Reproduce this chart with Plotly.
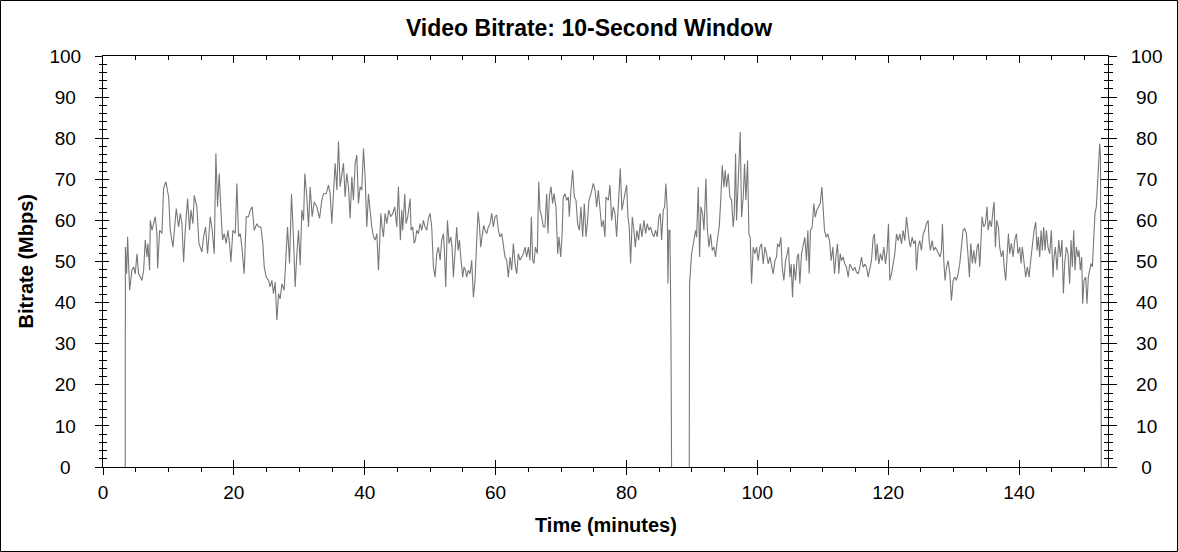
import plotly.graph_objects as go

TITLE = "Video Bitrate: 10-Second Window"
X_TITLE = "Time (minutes)"
Y_TITLE = "Bitrate (Mbps)"
x_ticks = [0, 20, 40, 60, 80, 100, 120, 140]
y_ticks = [0, 10, 20, 30, 40, 50, 60, 70, 80, 90, 100]

part1_minutes = [
    3.40, 3.42, 3.61, 3.76, 4.07, 4.42, 4.68, 4.93, 5.19, 5.44, 5.70, 5.95, 6.21, 6.46, 6.72, 6.87,
    7.12, 7.23, 7.48, 7.73, 7.99, 8.24, 8.35, 8.65, 9.01, 9.26, 9.62, 10.03, 10.28, 10.69, 11.20,
    11.55, 11.81, 12.06, 12.32, 12.57, 12.93, 13.23, 13.44, 13.74, 13.95, 14.35, 14.66, 15.12,
    15.37, 15.68, 15.98, 16.39, 16.69, 17.00, 17.25, 17.51, 17.76, 18.02, 18.27, 18.53, 18.83,
    19.09, 19.34, 19.55, 19.85, 20.21, 20.46, 20.72, 20.97, 21.23, 21.58, 21.89, 22.24, 22.50,
    22.80, 23.11, 23.52, 23.82, 24.13, 24.43, 24.64, 24.94, 25.30, 25.55, 25.81, 26.06, 26.32,
    26.57, 26.83, 27.08, 27.34, 27.69, 28.00, 28.20, 28.51, 28.81, 29.12, 29.37, 29.63, 29.88,
    30.14, 30.39, 30.65, 30.85, 31.15, 31.41, 31.66, 31.97, 32.27, 32.68, 33.09, 33.44, 33.70,
    34.11, 34.46, 34.72, 34.97, 35.23, 35.48, 35.74, 35.99, 36.25, 36.50, 36.75, 37.01, 37.26,
    37.52, 37.77, 38.03, 38.28, 38.54, 38.79, 39.04, 39.30, 39.55, 39.81, 40.06, 40.32, 40.57,
    40.83, 41.08, 41.34, 41.59, 41.85, 42.10, 42.25, 42.46, 42.66, 42.86, 43.12, 43.37, 43.68,
    43.98, 44.29, 44.59, 44.90, 45.15, 45.45, 45.66, 45.81, 46.12, 46.32, 46.58, 46.93, 47.09,
    47.34, 47.55, 47.75, 47.95, 48.21, 48.46, 48.72, 48.97, 49.23, 49.48, 49.73, 49.99, 50.24,
    50.50, 50.75, 51.01, 51.26, 51.52, 51.77, 52.03, 52.18, 52.38, 52.64, 52.89, 53.15, 53.35,
    53.55, 53.81, 54.06, 54.27, 54.47, 54.72, 54.98, 55.18, 55.39, 55.59, 55.84, 56.10, 56.35,
    56.61, 56.86, 57.12, 57.32, 57.52, 57.73, 57.93, 58.19, 58.39, 58.64, 58.90, 59.15, 59.41,
    59.66, 59.92, 60.17, 60.43, 60.68, 60.94, 61.19, 61.44, 61.70, 61.95, 62.21, 62.46, 62.72,
    62.97, 63.23, 63.48, 63.74, 63.99, 64.24, 64.50, 64.75, 65.01, 65.26, 65.47, 65.67, 65.87,
    66.08, 66.38, 66.59, 66.79, 67.04, 67.30, 67.55, 67.81, 68.01, 68.21, 68.47, 68.72, 68.93,
    69.23, 69.49, 69.69, 69.95, 70.15, 70.35, 70.61, 70.86, 71.12, 71.27, 71.52, 71.78, 72.03,
    72.29, 72.54, 72.80, 73.05, 73.31, 73.56, 73.82, 74.02, 74.27, 74.58, 74.94, 75.19, 75.45,
    75.70, 75.95, 76.21, 76.46, 76.72, 76.87, 77.23, 77.48, 77.74, 77.99, 78.25, 78.50, 78.75,
    79.06, 79.31, 79.52, 79.77, 80.03, 80.23, 80.43, 80.64, 80.89, 81.15, 81.35, 81.60, 81.86,
    82.11, 82.37, 82.67, 82.93, 83.18, 83.44, 83.69, 83.95, 84.20, 84.46, 84.71, 84.96, 85.17,
    85.37, 85.63, 85.83, 86.03, 86.24, 86.34, 86.49, 86.65, 86.80, 86.90,
]
part1_mbps = [
    0.0, 53.5, 47.0, 56.0, 43.0, 47.9, 48.7, 47.0, 51.9, 47.0, 46.2, 45.4, 47.9, 55.2, 51.1, 54.4,
    47.9, 60.0, 57.6, 59.2, 60.9, 56.8, 48.3, 57.6, 56.8, 67.8, 69.4, 65.7, 57.6, 53.5, 62.9,
    58.4, 61.7, 59.2, 49.9, 57.6, 65.3, 57.6, 62.5, 59.2, 66.1, 63.3, 54.4, 52.3,
    56.0, 58.4, 51.9, 60.9, 57.6, 51.9, 76.3, 63.3, 71.4, 62.5, 55.2, 56.8, 54.4,
    57.6, 54.4, 49.9, 57.6, 56.8, 69.0, 56.0, 56.8, 53.5, 47.0, 60.9, 60.9, 62.5,
    63.3, 57.6, 59.2, 58.4, 58.4, 54.4, 48.7, 46.2, 45.4, 43.8, 45.4, 42.2, 45.0,
    35.7, 42.2, 40.9, 44.6, 43.0, 51.1, 58.4, 49.5, 66.5, 55.2, 43.8, 51.9, 57.6,
    49.1, 62.5, 60.0, 71.4, 65.7, 58.4, 68.2, 60.9, 64.5, 63.3, 60.5, 64.9, 66.5,
    66.5, 68.6, 66.5, 59.2, 66.5, 73.9, 67.4, 79.2, 68.2, 70.6, 73.9, 65.7, 71.4,
    68.2, 60.5, 70.6, 64.9, 73.9, 75.9, 64.1, 68.2, 67.4, 77.5, 70.6, 58.4, 66.5,
    61.7, 58.4, 56.0, 55.2, 56.8, 47.9, 53.5, 61.7, 58.4, 56.0, 61.7, 59.2, 62.5,
    60.9, 61.7, 63.3, 58.4, 68.2, 55.2, 62.5, 57.6, 66.5, 59.2, 60.9, 65.3, 57.6,
    58.4, 54.4, 55.2, 57.6, 56.8, 59.2, 57.6, 60.0, 58.4, 57.6, 60.5, 61.7, 58.4,
    48.7, 46.2, 51.9, 53.5, 50.3, 55.2, 56.8, 52.7, 43.8, 60.0, 54.4, 56.0, 53.5,
    46.2, 52.7, 58.4, 52.7, 55.2, 50.3, 46.2, 48.7, 47.9, 46.2, 47.9, 47.0, 50.3,
    41.3, 45.4, 55.2, 62.1, 59.2, 53.5, 56.0, 58.8, 57.6, 56.8, 58.4, 59.2, 61.7,
    58.4, 60.9, 61.3, 57.6, 56.0, 56.8, 54.4, 51.1, 50.3, 46.2, 51.1, 47.9, 54.4,
    49.5, 47.0, 51.9, 50.3, 51.1, 51.9, 53.5, 51.1, 53.5, 50.3, 60.9, 50.3, 49.5,
    53.5, 51.9, 69.4, 62.5, 60.9, 58.4, 58.4, 66.5, 56.8, 65.7, 68.2, 64.1, 66.5,
    63.3, 51.9, 56.0, 51.1, 56.0, 65.7, 66.5, 64.9, 65.7, 60.9, 67.4, 72.2, 65.7,
    64.9, 59.2, 57.6, 63.3, 56.0, 64.1, 56.0, 59.2, 64.9, 66.5, 69.0, 67.4, 63.3,
    67.4, 62.5, 58.4, 60.0, 56.0, 65.7, 64.9, 68.6, 60.0, 63.3, 61.7, 56.0, 63.3,
    72.6, 62.5, 64.9, 66.5, 68.6, 60.9, 58.4, 49.5, 60.9, 57.6, 53.5, 57.6, 55.2,
    59.2, 56.0, 60.0, 56.8, 59.2, 57.6, 58.4, 56.8, 56.0, 57.6, 56.0, 60.9, 61.7,
    55.2, 62.5, 63.3, 69.0, 62.5, 44.6, 57.6, 57.6, 33.2, 0.0,
]

part2_minutes = [
    89.60, 89.65, 89.96, 90.11, 90.32, 90.57, 90.72, 90.98, 91.18, 91.38, 91.64, 91.84, 91.99,
    92.15, 92.35, 92.61, 92.86, 93.12, 93.37, 93.62, 93.88, 94.18, 94.44, 94.64, 94.90, 95.10,
    95.30, 95.56, 95.81, 96.07, 96.32, 96.48, 96.68, 96.83, 97.09, 97.39, 97.60, 97.85, 98.05,
    98.26, 98.51, 98.72, 98.92, 99.12, 99.38, 99.63, 99.89, 100.14, 100.40, 100.65, 100.91,
    101.16, 101.41, 101.67, 101.92, 102.18, 102.43, 102.69, 102.94, 103.09, 103.35, 103.60,
    103.81, 104.06, 104.32, 104.57, 104.77, 104.98, 105.18, 105.38, 105.59, 105.84, 106.10,
    106.30, 106.50, 106.76, 107.01, 107.27, 107.52, 107.73, 107.93, 108.13, 108.39, 108.64,
    108.85, 109.10, 109.36, 109.61, 109.87, 110.07, 110.27, 110.53, 110.78, 111.04, 111.29,
    111.55, 111.80, 112.06, 112.26, 112.46, 112.67, 112.87, 113.12, 113.38, 113.63, 113.89,
    114.14, 114.40, 114.65, 114.91, 115.16, 115.41, 115.67, 115.92, 116.18, 116.43, 116.69,
    116.94, 117.20, 117.45, 117.71, 117.91, 118.11, 118.32, 118.57, 118.83, 119.08, 119.34,
    119.59, 119.84, 120.05, 120.25, 120.51, 120.76, 121.02, 121.27, 121.52, 121.78, 122.03,
    122.29, 122.54, 122.80, 123.00, 123.21, 123.41, 123.66, 123.92, 124.17, 124.33, 124.58,
    124.83, 125.09, 125.34, 125.60, 125.85, 126.11, 126.26, 126.46, 126.72, 126.97, 127.23,
    127.48, 127.74, 127.94, 128.14, 128.30, 128.50, 128.70, 128.91, 129.16, 129.42, 129.67,
    129.93, 130.18, 130.43, 130.69, 130.94, 131.20, 131.45, 131.71, 131.96, 132.22, 132.42,
    132.62, 132.88, 133.08, 133.34, 133.59, 133.79, 134.00, 134.15, 134.35, 134.61, 134.86,
    135.12, 135.27, 135.53, 135.78, 136.03, 136.19, 136.39, 136.59, 136.85, 137.05, 137.31,
    137.56, 137.77, 137.97, 138.17, 138.38, 138.58, 138.83, 139.09, 139.34, 139.60, 139.85,
    140.11, 140.31, 140.51, 140.77, 141.02, 141.28, 141.53, 141.79, 142.04, 142.30, 142.55,
    142.76, 142.96, 143.16, 143.37, 143.57, 143.77, 143.98, 144.18, 144.43, 144.69, 144.94,
    145.20, 145.35, 145.56, 145.81, 146.07, 146.32, 146.57, 146.78, 146.98, 147.24, 147.49,
    147.74, 147.95, 148.15, 148.36, 148.56, 148.76, 149.02, 149.17, 149.37, 149.58, 149.73,
    149.93, 150.19, 150.39, 150.59, 150.80, 151.00, 151.21, 151.41, 151.61, 151.82, 151.97,
    152.13, 152.33, 152.45, 152.58,
]
part2_mbps = [
    0.0, 44.6, 51.9, 53.5, 55.1, 57.6, 55.9, 68.1, 51.1, 63.3, 61.6, 57.6, 63.3,
    70.2, 58.4, 53.5, 56.7, 52.7, 53.5, 51.1, 55.1, 58.4, 65.7, 73.4, 68.1, 72.2,
    68.1, 71.4, 65.7, 64.9, 58.4, 61.6, 76.3, 60.0, 69.8, 81.5, 60.8, 65.7, 73.8,
    64.9, 74.6, 56.7, 55.9, 44.6, 53.5, 51.9, 53.5, 50.2, 53.5, 54.3, 49.4,
    53.5, 51.9, 49.4, 51.1, 48.6, 47.0, 50.2, 51.1, 54.3, 53.5, 55.9,
    48.6, 45.4, 50.2, 51.9, 53.5, 46.2, 49.4, 41.3, 49.4, 45.4, 51.1,
    51.9, 44.6, 51.9, 54.3, 55.9, 50.2, 57.6, 47.0, 57.6, 58.4, 64.1,
    60.8, 62.4, 63.3, 64.1, 68.1, 61.6, 57.6, 55.9, 56.7, 55.1, 50.2,
    53.5, 47.0, 51.9, 54.3, 47.0, 51.9, 50.2, 51.1, 49.4, 48.6, 46.2,
    49.4, 48.6, 47.8, 48.6, 47.4, 47.0, 48.6, 51.1, 48.6, 49.4, 48.6,
    46.2, 48.6, 50.2, 55.9, 56.7, 50.2, 54.3, 49.4, 51.9, 50.2, 53.5,
    49.4, 52.7, 59.2, 45.4, 47.0, 49.4, 51.9, 56.7, 55.1, 56.7, 54.3,
    57.6, 55.1, 60.8, 57.6, 55.1, 53.5, 55.9, 54.3, 55.1, 47.8, 53.5,
    55.1, 52.7, 56.7, 57.6, 59.2, 60.0, 55.1, 52.7, 55.1, 52.7, 53.5,
    52.7, 51.9, 51.1, 52.7, 59.2, 50.2, 45.4, 48.6, 50.2, 47.0, 40.5,
    45.4, 46.2, 45.4, 47.0, 49.4, 54.3, 57.6, 58.0, 56.8, 51.1, 46.2,
    54.4, 49.5, 52.7, 49.5, 53.5, 54.4, 48.7, 52.7, 60.9, 58.4, 59.2,
    63.3, 57.6, 60.0, 58.4, 62.5, 64.5, 53.5, 60.0, 58.4, 53.5, 51.1,
    52.7, 47.9, 45.4, 51.1, 56.8, 51.9, 54.4, 51.1, 55.2, 56.8, 51.9,
    53.5, 49.5, 53.5, 50.3, 46.2, 48.7, 46.2, 50.3, 54.4, 57.6, 59.6,
    52.7, 56.0, 51.1, 57.6, 52.7, 58.4, 52.7, 57.6, 53.5, 51.9, 57.6,
    46.2, 51.1, 53.5, 47.9, 55.2, 51.1, 55.2, 42.2, 49.5, 53.5, 51.9,
    44.6, 55.2, 48.7, 57.6, 47.9, 53.5, 51.1, 52.7, 47.9, 51.1, 39.7,
    45.4, 46.2, 39.7, 46.2, 47.9, 49.5, 48.7, 57.6, 61.7, 63.3, 69.0,
    73.9, 78.7, 75.5, 0.0,
]

W, H = 1178, 552
L, R, T, B = 103, 70, 56, 85
PW = W - L - R
PH = H - T - B
X_RANGE = [0, 153.6]
Y_RANGE = [0, 100]
FONT = "Liberation Sans, Arial, sans-serif"
LINE_COLOR = "#787878"

# centre the y tick labels within a three-digit-wide column (as in the reference)
FIG_SP = "\u2007"    # width of one digit
PUNCT_SP = "\u2008"  # width of half a digit


def pad_left_axis(v):
    s = str(v)
    return s + {1: FIG_SP, 2: PUNCT_SP, 3: ""}[len(s)]


def pad_right_axis(v):
    s = str(v)
    return {1: FIG_SP, 2: PUNCT_SP, 3: ""}[len(s)] + s


fig = go.Figure()
fig.add_trace(go.Scatter(x=part1_minutes, y=part1_mbps, mode="lines",
                         line=dict(color=LINE_COLOR, width=1.1), hoverinfo="skip", showlegend=False))
fig.add_trace(go.Scatter(x=part2_minutes, y=part2_mbps, mode="lines",
                         line=dict(color=LINE_COLOR, width=1.1), hoverinfo="skip", showlegend=False))
for xa, ya in [("x2", "y"), ("x3", "y"), ("x", "y2"), ("x", "y3"), ("x", "y4")]:
    fig.add_trace(go.Scatter(x=[None], y=[None], xaxis=xa, yaxis=ya, mode="lines",
                             hoverinfo="skip", showlegend=False))

tickfont = dict(family=FONT, size=19, color="black")
base = dict(showgrid=False, zeroline=False, tickcolor="black", tickwidth=1,
            linecolor="black", linewidth=1, fixedrange=True)

fig.update_layout(
    width=W, height=H, autosize=False,
    margin=dict(l=L, r=R, t=T, b=B, pad=0),
    paper_bgcolor="white", plot_bgcolor="white",
    font=dict(family=FONT, color="black"),
    title=dict(text="<b>" + TITLE + "</b>", x=0.5, xref="container", xanchor="center",
               y=1 - 27.5 / H, yref="container", yanchor="middle",
               font=dict(family=FONT, size=23, color="black")),
    xaxis=dict(base, range=X_RANGE, anchor="y", side="bottom", showline=True,
               tickmode="array", tickvals=x_ticks, ticks="outside", ticklen=7,
               tickfont=tickfont, ticklabelstandoff=1,
               minor=dict(dtick=5, tick0=0, ticks="outside", ticklen=4, tickcolor="black", showgrid=False)),
    xaxis2=dict(base, range=X_RANGE, overlaying="x", anchor="y", side="bottom", showline=False,
                tickmode="array", tickvals=x_ticks, ticks="inside", ticklen=7, showticklabels=False),
    xaxis3=dict(base, range=X_RANGE, overlaying="x", anchor="y", side="top", showline=True,
                tickmode="array", tickvals=x_ticks, ticks="inside", ticklen=7, showticklabels=False,
                minor=dict(dtick=5, tick0=0, ticks="inside", ticklen=4, tickcolor="black", showgrid=False)),
    yaxis=dict(base, range=Y_RANGE, anchor="x", side="left", showline=True,
               tickmode="array", tickvals=y_ticks, ticktext=[pad_left_axis(v) for v in y_ticks],
               ticks="outside", ticklen=7, tickfont=tickfont, ticklabelstandoff=10,
               minor=dict(dtick=2, tick0=0, ticks="outside", ticklen=3, tickcolor="black", showgrid=False)),
    yaxis2=dict(base, range=Y_RANGE, overlaying="y", anchor="x", side="left", showline=False,
                tickmode="array", tickvals=y_ticks, ticks="inside", ticklen=6, showticklabels=False,
                minor=dict(dtick=2, tick0=0, ticks="inside", ticklen=4, tickcolor="black", showgrid=False)),
    yaxis3=dict(base, range=Y_RANGE, overlaying="y", anchor="x", side="right", showline=True,
                tickmode="array", tickvals=y_ticks, ticktext=[pad_right_axis(v) for v in y_ticks],
                ticks="outside", ticklen=8, tickfont=tickfont, ticklabelstandoff=10,
                minor=dict(dtick=2, tick0=0, ticks="outside", ticklen=4, tickcolor="black", showgrid=False)),
    yaxis4=dict(base, range=Y_RANGE, overlaying="y", anchor="x", side="right", showline=False,
                tickmode="array", tickvals=y_ticks, ticks="inside", ticklen=7, showticklabels=False,
                minor=dict(dtick=2, tick0=0, ticks="inside", ticklen=4, tickcolor="black", showgrid=False)),
    annotations=[
        dict(text="<b>" + Y_TITLE + "</b>", xref="paper", yref="paper", x=0, y=0.5,
             xanchor="center", yanchor="middle", xshift=25 - L, textangle=-90, showarrow=False,
             font=dict(family=FONT, size=20, color="black")),
        dict(text="<b>" + X_TITLE + "</b>", xref="paper", yref="paper", x=0.5, y=0,
             xanchor="center", yanchor="middle", yshift=-(525 - (H - B)), showarrow=False,
             font=dict(family=FONT, size=20, color="black")),
    ],
    shapes=[
        dict(type="rect", xref="paper", yref="paper",
             x0=(0.5 - L) / PW, x1=(W - 0.5 - L) / PW,
             y0=-(B - 0.5) / PH, y1=1 + (T - 0.5) / PH,
             line=dict(color="black", width=1), fillcolor="rgba(0,0,0,0)", layer="above"),
    ],
)

fig.write_html("out.html", config={"displayModeBar": False},
               post_script="document.body.style.margin='0px';document.body.style.overflow='hidden';")
